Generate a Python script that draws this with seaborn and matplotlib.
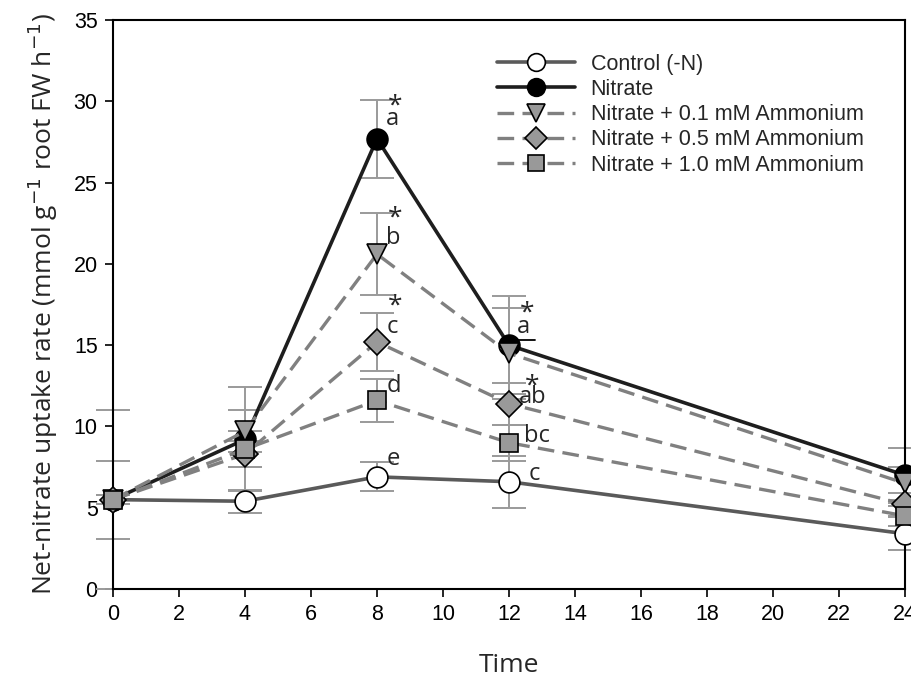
import matplotlib
matplotlib.use("Agg")
import matplotlib.pyplot as plt
import seaborn as sns
import pandas as pd
import numpy as np

time = [0, 4, 8, 12, 24]
series_names = ["Control (-N)", "Nitrate", "Nitrate + 0.1 mM Ammonium",
                "Nitrate + 0.5 mM Ammonium", "Nitrate + 1.0 mM Ammonium"]
control = [5.5, 5.4, 6.9, 6.6, 3.4]
control_err = [0.3, 0.7, 0.9, 1.6, 1.0]
nitrate = [5.5, 9.2, 27.7, 15.0, 7.0]
nitrate_err = [5.5, 3.2, 2.4, 3.0, 1.7]
amm01 = [5.5, 9.7, 20.6, 14.5, 6.5]
amm01_err = [2.4, 1.3, 2.5, 2.8, 1.0]
amm05 = [5.5, 8.3, 15.2, 11.4, 5.2]
amm05_err = [0.3, 0.8, 1.8, 1.3, 0.7]
amm10 = [5.5, 8.6, 11.6, 9.0, 4.5]
amm10_err = [0.3, 1.1, 1.3, 1.1, 0.6]

# annotations: (x, y, text)
annot_x = [8.28, 8.28, 8.28, 8.28, 8.28, 12.25, 12.3, 12.45, 12.6]
annot_y = [28.9, 21.6, 16.1, 12.5, 8.0, 16.1, 11.8, 9.4, 7.1]
annot_txt = ["a", "b", "c", "d", "e", "a", "ab", "bc", "c"]
star_x = [8.55, 8.55, 8.55, 12.55, 12.7]
star_y = [29.7, 22.8, 17.4, 17.0, 12.5]

values = [control, nitrate, amm01, amm05, amm10]
errors = [control_err, nitrate_err, amm01_err, amm05_err, amm10_err]
markers = ["o", "o", "v", "D", "s"]
msizes = [15, 15, 15, 13, 13]
faces = ["white", "black", "#999999", "#999999", "#999999"]
lcolors = ["#5a5a5a", "#1e1e1e", "#808080", "#808080", "#808080"]
dashed = [False, False, True, True, True]

rows = []
for name, vals in zip(series_names, values):
    for t, v in zip(time, vals):
        rows.append({"Time": t, "Rate": v, "Series": name})
df = pd.DataFrame(rows)

sns.set_style("ticks")
fig = plt.figure(figsize=(9.11, 6.87), dpi=100)
ax = fig.add_axes([0.124, 0.1426, 0.8694, 0.8283])

# error bars
for vals, errs in zip(values, errors):
    ax.errorbar(time, vals, yerr=errs, fmt="none", ecolor="#9a9a9a",
                elinewidth=1.4, capsize=12, capthick=1.4, zorder=1, clip_on=False)

order = [0, 4, 3, 2, 1]
handles = {}
for i in order:
    sub = df[df["Series"] == series_names[i]]
    sns.lineplot(data=sub, x="Time", y="Rate", ax=ax, color=lcolors[i],
                 linewidth=2.6 if not dashed[i] else 2.4,
                 marker=markers[i], markersize=msizes[i],
                 markerfacecolor=faces[i], markeredgecolor="black",
                 markeredgewidth=1.2, label=series_names[i], zorder=3 + i,
                 clip_on=False)
    ln = ax.lines[-1]
    if dashed[i]:
        ln.set_dashes((5, 2.5))
    handles[i] = ln

for x, y, t in zip(annot_x, annot_y, annot_txt):
    ax.text(x, y, t, fontsize=17, family="Open Sans", va="center",
            ha="left", zorder=10)
# underline for the "a" at 12
ax.plot([12.27, 12.8], [15.3, 15.3], color="black", lw=1.3, zorder=10)
for x, y in zip(star_x, star_y):
    ax.text(x, y, "*", fontsize=19, family="Open Sans", va="center",
            ha="center", zorder=10)

ax.set_xlim(0, 24)
ax.set_ylim(0, 35)
ax.set_xticks(np.arange(0, 25, 2))
ax.set_yticks(np.arange(0, 36, 5))
ax.tick_params(direction="out", length=6, width=1.2, labelsize=15.5,
               colors="black", pad=5)
for lab in ax.get_xticklabels() + ax.get_yticklabels():
    lab.set_family("Liberation Sans")
for sp in ax.spines.values():
    sp.set_visible(True)
    sp.set_linewidth(1.5)
    sp.set_color("black")

ax.set_xlabel("Time", fontsize=19, family="Open Sans", labelpad=20)
ax.set_ylabel("Net-nitrate uptake rate (mmol g$^{-1}$ root FW h$^{-1}$)",
              fontsize=19, family="Open Sans", labelpad=10)

leg_handles = [handles[i] for i in range(5)]
ax.legend(leg_handles, series_names, loc="upper left",
          bbox_to_anchor=(0.485, 0.941), frameon=False,
          handlelength=3.6, labelspacing=0.2, handletextpad=0.75,
          borderpad=0, borderaxespad=0, markerscale=0.85,
          prop={"family": "Liberation Sans", "size": 15.5})

fig.savefig("out.png", dpi=100)
